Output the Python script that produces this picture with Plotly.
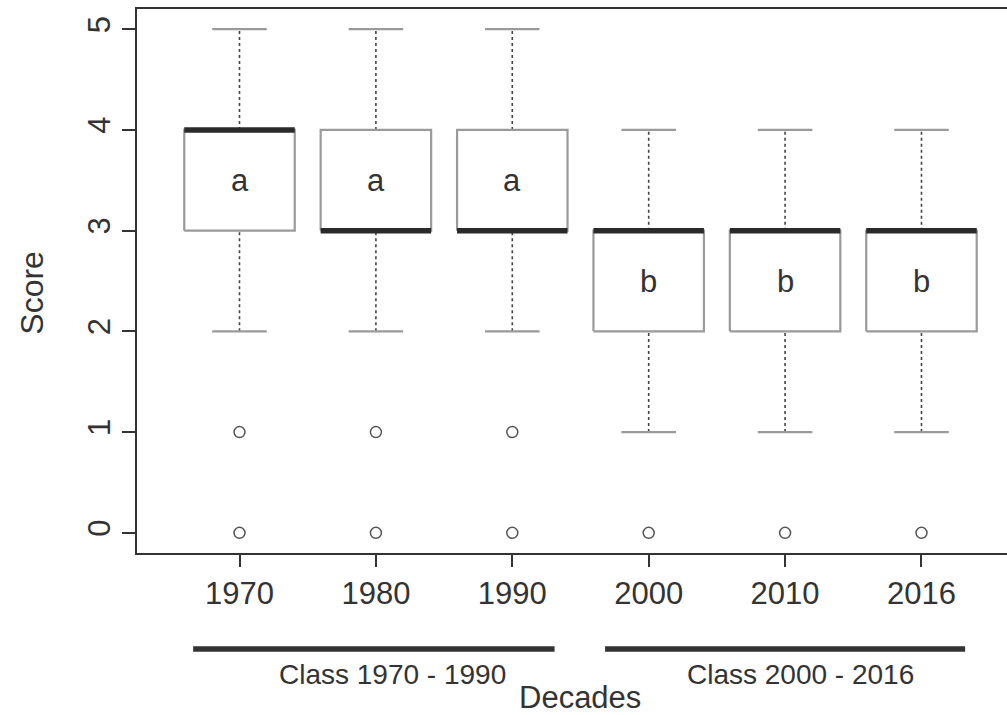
import plotly.graph_objects as go

# Score distribution per decade (boxplot statistics)
decades = ["1970", "1980", "1990", "2000", "2010", "2016"]
lower_whisker = [2, 2, 2, 1, 1, 1]
q1 = [3, 3, 3, 2, 2, 2]
median = [4, 3, 3, 3, 3, 3]
q3 = [4, 4, 4, 3, 3, 3]
upper_whisker = [5, 5, 5, 4, 4, 4]
outliers = [[1, 0], [1, 0], [1, 0], [0], [0], [0]]
group_letters = ["a", "a", "a", "b", "b", "b"]

class_labels = ["Class 1970 - 1990", "Class 2000 - 2016"]
class_spans = [(0.66, 3.31), (3.68, 6.32)]
class_label_x = [2.12, 5.11]

FONT = "Liberation Sans, Arial, sans-serif"
BOX_HALF = 0.405
CAP_HALF = 0.2

pos = list(range(1, len(decades) + 1))

box_x, box_y = [], []
med_x, med_y = [], []
wh_x, wh_y = [], []
cap_x, cap_y = [], []
out_x, out_y = [], []
for i, p in enumerate(pos):
    box_x += [p - BOX_HALF, p + BOX_HALF, p + BOX_HALF, p - BOX_HALF, p - BOX_HALF, None]
    box_y += [q1[i], q1[i], q3[i], q3[i], q1[i], None]
    med_x += [p - BOX_HALF, p + BOX_HALF, None]
    med_y += [median[i], median[i], None]
    wh_x += [p, p, None, p, p, None]
    wh_y += [q3[i], upper_whisker[i], None, lower_whisker[i], q1[i], None]
    cap_x += [p - CAP_HALF, p + CAP_HALF, None, p - CAP_HALF, p + CAP_HALF, None]
    cap_y += [upper_whisker[i], upper_whisker[i], None, lower_whisker[i], lower_whisker[i], None]
    for o in outliers[i]:
        out_x.append(p)
        out_y.append(o)

fig = go.Figure()
# dotted whiskers
fig.add_trace(go.Scatter(x=wh_x, y=wh_y, mode="lines",
                         line=dict(color="#444444", width=1.6, dash="3px,3px"),
                         hoverinfo="skip"))
# whisker caps
fig.add_trace(go.Scatter(x=cap_x, y=cap_y, mode="lines",
                         line=dict(color="#9a9a9a", width=2.2), hoverinfo="skip"))
# interquartile boxes
fig.add_trace(go.Scatter(x=box_x, y=box_y, mode="lines",
                         line=dict(color="#9a9a9a", width=2.2), hoverinfo="skip"))
# medians
fig.add_trace(go.Scatter(x=med_x, y=med_y, mode="lines",
                         line=dict(color="#2a2a2a", width=5.5), hoverinfo="skip"))
# outliers
fig.add_trace(go.Scatter(x=out_x, y=out_y, mode="markers",
                         marker=dict(symbol="circle-open", size=11,
                                     color="#555555", line=dict(width=1.5, color="#555555")),
                         hoverinfo="skip"))

annotations = []
for i, p in enumerate(pos):
    annotations.append(dict(x=p, y=(q1[i] + q3[i]) / 2, xref="x", yref="y",
                            text=group_letters[i], showarrow=False,
                            font=dict(family=FONT, size=31, color="#333333")))

shapes = []
for (x0, x1), lab, lx in zip(class_spans, class_labels, class_label_x):
    shapes.append(dict(type="line", xref="x", yref="paper", x0=x0, x1=x1,
                       y0=-0.1765, y1=-0.1765,
                       line=dict(color="#333333", width=5.5)))
    annotations.append(dict(x=lx, y=-0.224, xref="x", yref="paper", text=lab,
                            showarrow=False, yanchor="middle",
                            font=dict(family=FONT, size=28, color="#333333")))

annotations.append(dict(x=(580 - 137) / 870, y=-0.265, xref="paper", yref="paper",
                        text="Decades", showarrow=False, yanchor="middle",
                        font=dict(family=FONT, size=31, color="#333333")))
annotations.append(dict(x=-0.121, y=0.478, xref="paper", yref="paper", text="Score",
                        showarrow=False, textangle=-90, xanchor="center", yanchor="middle",
                        font=dict(family=FONT, size=32, color="#333333")))

fig.update_layout(
    width=1007, height=715,
    margin=dict(l=137, r=0, t=9, b=162),
    paper_bgcolor="white", plot_bgcolor="white",
    showlegend=False,
    shapes=shapes,
    annotations=annotations,
    xaxis=dict(range=[0.2485, 6.627], tickvals=pos, ticktext=decades,
               showgrid=False, zeroline=False, showline=True, mirror=True,
               linecolor="#333333", linewidth=2, ticks="outside", ticklen=12,
               tickwidth=1.5, tickcolor="#333333",
               tickfont=dict(family=FONT, size=31, color="#333333")),
    yaxis=dict(range=[-0.2, 5.2], tickvals=[0, 1, 2, 3, 4, 5],
               showgrid=False, zeroline=False, showline=True,
               linecolor="#333333", linewidth=2, ticks="outside", ticklen=13,
               tickwidth=1.5, tickcolor="#333333", tickangle=-90,
               tickfont=dict(family=FONT, size=31, color="#333333")),
)

fig.write_html("out.html")
